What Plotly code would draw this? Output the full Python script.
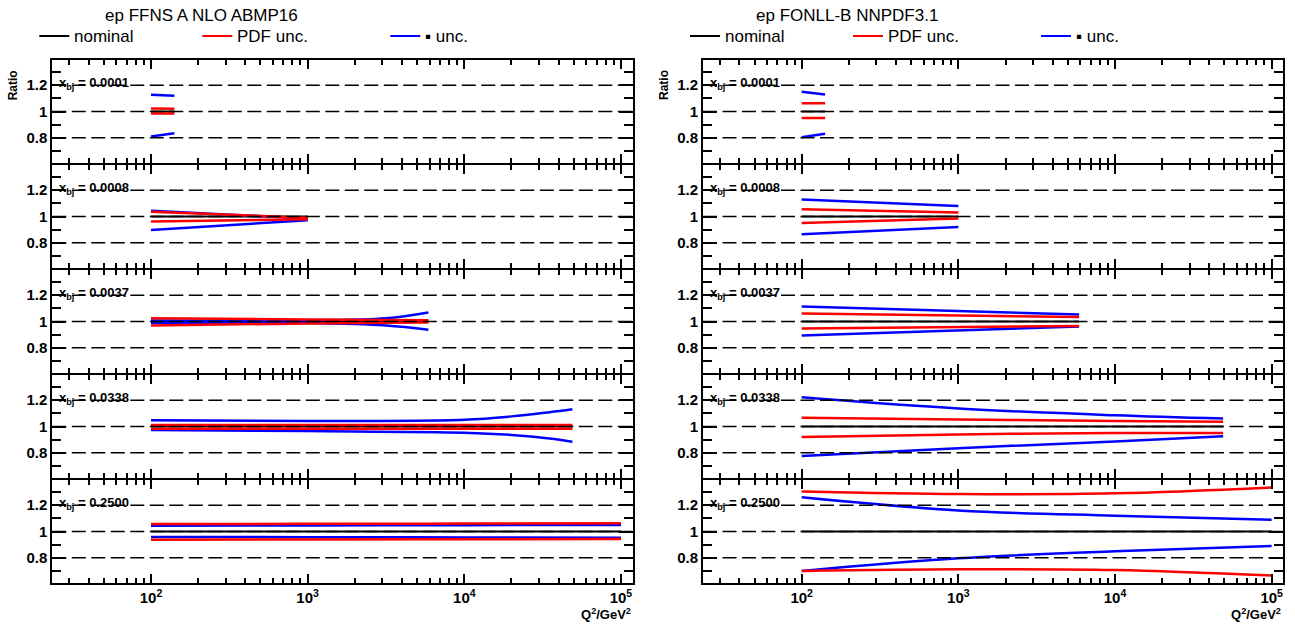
import plotly.graph_objects as go

W, H = 1295, 633

# ---------------- data ----------------
xbj_values = ["0.0001", "0.0008", "0.0037", "0.0338", "0.2500"]
panel_titles = ["ep FFNS A NLO ABMP16", "ep FONLL-B NNPDF3.1"]
legend_labels = ["nominal", "PDF unc.", "\u25aa unc."]

# ABMP16 (left column), one list per x_bj panel
abmp_q2 = [[100, 141], [100, 1000], [100, 1000, 3160, 5900],
           [100, 1000, 10000, 20000, 35000, 49000], [100, 1000, 10000, 100000]]
abmp_pdf_up = [[1.022, 1.020], [1.036, 0.990], [1.025, 1.015, 1.012, 1.010],
               [1.012, 1.012, 1.012, 1.012, 1.012, 1.012], [1.057, 1.058, 1.060, 1.062]]
abmp_pdf_dn = [[0.985, 0.985], [0.962, 0.980], [0.970, 0.985, 0.990, 0.993],
               [0.983, 0.983, 0.983, 0.983, 0.983, 0.983], [0.938, 0.939, 0.941, 0.943]]
abmp_mu_up = [[1.127, 1.119], [1.043, 0.985], [1.007, 1.010, 1.025, 1.069],
              [1.047, 1.042, 1.052, 1.077, 1.109, 1.131], [1.044, 1.046, 1.048, 1.050]]
abmp_mu_dn = [[0.810, 0.835], [0.898, 0.972], [0.988, 0.988, 0.970, 0.938],
              [0.973, 0.965, 0.953, 0.936, 0.909, 0.884], [0.958, 0.957, 0.955, 0.953]]

# NNPDF3.1 (right column)
nnpdf_q2 = [[100, 141], [100, 1000], [100, 5900],
            [100, 1000, 10000, 49000], [100, 1000, 10000, 100000]]
nnpdf_pdf_up = [[1.063, 1.063], [1.055, 1.030], [1.060, 1.035],
                [1.067, 1.054, 1.041, 1.036], [1.305, 1.285, 1.290, 1.335]]
nnpdf_pdf_dn = [[0.951, 0.951], [0.950, 0.985], [0.947, 0.966],
                [0.920, 0.940, 0.951, 0.951], [0.700, 0.713, 0.707, 0.665]]
nnpdf_mu_up = [[1.151, 1.129], [1.130, 1.080], [1.114, 1.053],
               [1.222, 1.137, 1.085, 1.060], [1.260, 1.160, 1.120, 1.090]]
nnpdf_mu_dn = [[0.805, 0.830], [0.865, 0.920], [0.894, 0.962],
               [0.775, 0.835, 0.886, 0.925], [0.700, 0.796, 0.850, 0.890]]

nominal_ratio = 1.0
ref_lines = [0.8, 1.0, 1.2]
y_major = [0.8, 1.0, 1.2]
y_major_text = ["0.8", "1", "1.2"]
y_minor = [0.7, 0.9, 1.1, 1.3]
x_major = [100, 1000, 10000, 100000]
x_major_text = ["10<sup>2</sup>", "10<sup>3</sup>", "10<sup>4</sup>", "10<sup>5</sup>"]
x_minor = [m * 10 ** e for e in range(1, 5) for m in range(2, 10) if m * 10 ** e > 25]

columns = [
    (abmp_q2, abmp_pdf_up, abmp_pdf_dn, abmp_mu_up, abmp_mu_dn),
    (nnpdf_q2, nnpdf_pdf_up, nnpdf_pdf_dn, nnpdf_mu_up, nnpdf_mu_dn),
]

# ---------------- layout geometry (pixels) ----------------
col_left = [52.3, 703.0]
col_w = 580.4
LW = 2            # frame line width; panels are separated by LW so lines coincide
top0 = 60.0
pitch = 105.0
plot_h = pitch - LW
half_span = plot_h / 131.5 / 2   # 131.5 px per ratio unit

FONT = "Liberation Sans, Arial, Helvetica, sans-serif"
RED = "rgb(255,0,0)"
BLUE = "rgb(0,0,255)"

def px(v):
    return v / W

def py(v):
    return 1 - v / H

fig = go.Figure()
layout = dict(
    width=W, height=H, margin=dict(l=0, r=0, t=0, b=0),
    paper_bgcolor="white", plot_bgcolor="white", showlegend=False,
    font=dict(family=FONT, color="black"),
)
shapes = []
annotations = []

for c in range(2):
    q2s, pup, pdn, mup, mdn = columns[c]
    for r in range(5):
        k = c * 5 + r + 1
        xs = "" if k == 1 else str(k)
        xa, ya = "x" + xs, "y" + xs
        q = q2s[r]
        common = dict(xaxis=xa, yaxis=ya, mode="lines", hoverinfo="skip")
        fig.add_trace(go.Scatter(x=[q[0], q[-1]], y=[nominal_ratio, nominal_ratio],
                                 line=dict(color="black", width=2), **common))
        fig.add_trace(go.Scatter(x=q, y=mup[r], line=dict(color=BLUE, width=2.5, shape="spline"), **common))
        fig.add_trace(go.Scatter(x=q, y=mdn[r], line=dict(color=BLUE, width=2.5, shape="spline"), **common))
        fig.add_trace(go.Scatter(x=q, y=pup[r], line=dict(color=RED, width=2.5, shape="spline"), **common))
        fig.add_trace(go.Scatter(x=q, y=pdn[r], line=dict(color=RED, width=2.5, shape="spline"), **common))

        x0 = col_left[c]
        ytop = top0 + r * pitch
        ybot = ytop + plot_h
        bottom = (r == 4)
        layout["xaxis" + xs] = dict(
            domain=[px(x0), px(x0 + col_w)], anchor=ya, type="log", range=[1.37, 5.075],
            showline=True, linecolor="black", linewidth=LW, mirror="ticks",
            ticks="inside", ticklen=9, tickwidth=1.5, tickcolor="black",
            tickvals=x_major, ticktext=x_major_text, showticklabels=bottom,
            tickfont=dict(family=FONT, size=15, color="black", weight="bold"),
            minor=dict(tickvals=x_minor, ticks="inside", ticklen=5, tickwidth=1.5, tickcolor="black"),
            showgrid=False, zeroline=False, fixedrange=True,
        )
        layout["yaxis" + xs] = dict(
            domain=[py(ybot), py(ytop)], anchor=xa, range=[1 - half_span, 1 + half_span],
            showline=True, linecolor="black", linewidth=LW, mirror="ticks",
            ticks="inside", ticklen=14, tickwidth=1.5, tickcolor="black",
            tickvals=y_major, ticktext=y_major_text,
            tickfont=dict(family=FONT, size=15, color="black", weight="bold"),
            minor=dict(tickvals=y_minor, ticks="inside", ticklen=9, tickwidth=1.5, tickcolor="black"),
            showgrid=False, zeroline=False, fixedrange=True,
        )
        for v in ref_lines:
            shapes.append(dict(type="line", xref=xa + " domain", yref=ya, x0=0, x1=1, y0=v, y1=v,
                               line=dict(color="black", width=1.6, dash="14px,5.5px"), layer="above"))
        annotations.append(dict(
            xref=xa + " domain", yref=ya, x=0.008, y=1.215, xanchor="left", yanchor="middle",
            text="<b>x<sub>bj</sub> = " + xbj_values[r] + "</b>", showarrow=False,
            font=dict(family=FONT, size=13, color="black")))

    # column decorations: title, legend, axis labels
    x0 = col_left[c]
    annotations.append(dict(xref="paper", yref="paper", x=px(x0 + 51), y=py(15),
                            xanchor="left", yanchor="middle", text=panel_titles[c], showarrow=False,
                            font=dict(family=FONT, size=17, color="black")))
    leg_colors = ["black", RED, BLUE]
    leg_offsets = [-13, 150, 338]
    for lab, col, off in zip(legend_labels, leg_colors, leg_offsets):
        lx = x0 + off
        shapes.append(dict(type="line", xref="paper", yref="paper", x0=px(lx), x1=px(lx + 30),
                           y0=py(36), y1=py(36), line=dict(color=col, width=2)))
        annotations.append(dict(xref="paper", yref="paper", x=px(lx + 33), y=py(36),
                                xanchor="left", yanchor="middle", text=lab, showarrow=False,
                                font=dict(family=FONT, size=17, color="black")))
    annotations.append(dict(xref="paper", yref="paper", x=px(x0 - 39), y=py(85),
                            xanchor="center", yanchor="middle", text="<b>Ratio</b>", textangle=-90,
                            showarrow=False, font=dict(family=FONT, size=12, color="black")))
    annotations.append(dict(xref="paper", yref="paper", x=px(x0 + col_w), y=py(614),
                            xanchor="right", yanchor="middle", text="<b>Q<sup>2</sup>/GeV<sup>2</sup></b>",
                            showarrow=False, font=dict(family=FONT, size=13, color="black")))

layout["shapes"] = shapes
layout["annotations"] = annotations
fig.update_layout(**layout)
fig.write_html("out.html", config={"displayModeBar": False},
               post_script="document.body.style.margin='0px';document.body.style.overflow='hidden';")
